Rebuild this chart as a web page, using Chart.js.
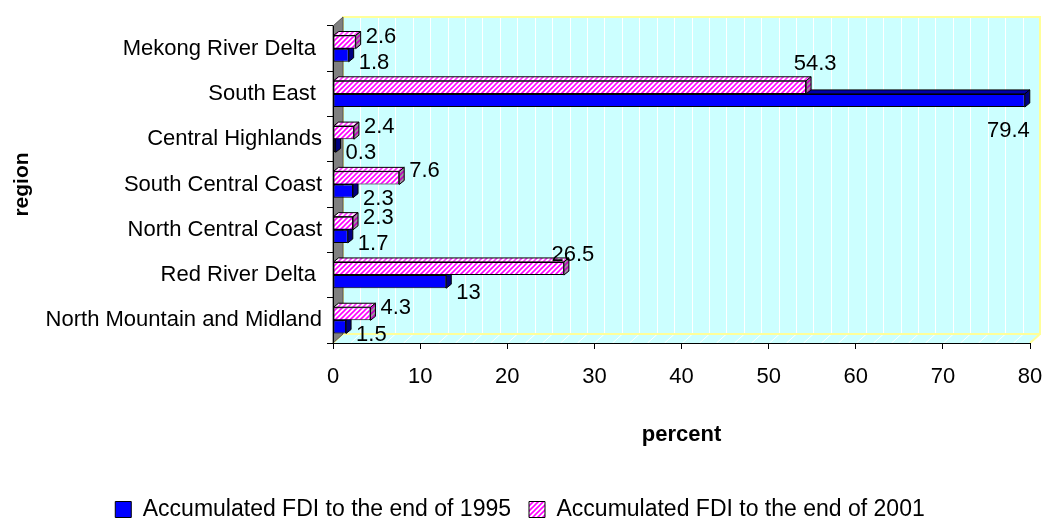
<!DOCTYPE html>
<html>
<head>
<meta charset="utf-8">
<title>FDI by region</title>
<script src="https://cdn.jsdelivr.net/npm/chart.js@4.4.0/dist/chart.umd.min.js"></script>
<style>
    html, body { margin: 0; padding: 0; background: #fff; }
    #chart { display: block; }
</style>
</head>
<body>
<canvas id="chart" width="1047" height="524"></canvas>
<script>
// chart data
const regions = ['Mekong River Delta ', 'South East ', 'Central Highlands', 'South Central Coast',
    'North Central Coast', 'Red River Delta ', 'North Mountain and Midland'];
const fdi1995 = [1.8, 79.4, 0.3, 2.3, 1.7, 13, 1.5];
const fdi2001 = [2.6, 54.3, 2.4, 7.6, 2.3, 26.5, 4.3];
const seriesNames = ['Accumulated FDI to the end of 1995', 'Accumulated FDI to the end of 2001'];
const xTicks = [0, 10, 20, 30, 40, 50, 60, 70, 80];
const gridStep = 2;

// 3D look
const WALL_DX = 10, WALL_DY = -9;
const BAR_DX = 5, BAR_DY = -4;
const FONT = '"Liberation Sans", Arial, sans-serif';

const canvas = document.getElementById('chart');
const ctx = canvas.getContext('2d');

function makeHatch(bg, fg) {
    const tile = document.createElement('canvas');
    tile.width = 5;
    tile.height = 5;
    const g = tile.getContext('2d');
    g.fillStyle = bg;
    g.fillRect(0, 0, 5, 5);
    g.strokeStyle = fg;
    g.lineWidth = 1.6;
    g.beginPath();
    g.moveTo(0, 5); g.lineTo(5, 0);
    g.moveTo(-1, 1); g.lineTo(1, -1);
    g.moveTo(4, 6); g.lineTo(6, 4);
    g.stroke();
    return ctx.createPattern(tile, 'repeat');
}

const pinkFront = makeHatch('#ffffff', '#ff00ff');
const pinkTop = makeHatch('#ffffff', '#ff33ff');
const pinkSide = makeHatch('#9a9a9a', '#c000c0');

// back wall, floor, side wall and grid
const wallsPlugin = {
    id: 'walls',
    beforeDraw(chart) {
        const { ctx, chartArea: a, scales: { x } } = chart;
        const dx = WALL_DX, dy = WALL_DY;
        ctx.save();
        ctx.fillStyle = '#ccffff';
        ctx.fillRect(a.left + dx, a.top + dy, a.width, a.height);
        ctx.beginPath();
        ctx.moveTo(a.left, a.bottom);
        ctx.lineTo(a.right, a.bottom);
        ctx.lineTo(a.right + dx, a.bottom + dy);
        ctx.lineTo(a.left + dx, a.bottom + dy);
        ctx.closePath();
        ctx.fill();

        ctx.strokeStyle = '#ffffff';
        ctx.lineWidth = 1;
        for (let v = x.min + gridStep; v < x.max; v += gridStep) {
            const px = Math.round(x.getPixelForValue(v)) + 0.5;
            ctx.beginPath();
            ctx.moveTo(px + dx, a.top + dy);
            ctx.lineTo(px + dx, a.bottom + dy);
            ctx.lineTo(px, a.bottom);
            ctx.stroke();
        }

        ctx.strokeStyle = '#ffff99';
        ctx.lineWidth = 2;
        ctx.beginPath();
        ctx.moveTo(a.left + dx, a.bottom + dy);
        ctx.lineTo(a.left + dx, a.top + dy);
        ctx.lineTo(a.right + dx, a.top + dy);
        ctx.lineTo(a.right + dx, a.bottom + dy);
        ctx.lineTo(a.left + dx, a.bottom + dy);
        ctx.lineTo(a.left, a.bottom);
        ctx.moveTo(a.right + dx, a.bottom + dy);
        ctx.lineTo(a.right, a.bottom);
        ctx.stroke();

        ctx.fillStyle = '#808080';
        ctx.strokeStyle = '#555555';
        ctx.lineWidth = 1;
        ctx.beginPath();
        ctx.moveTo(a.left, a.top);
        ctx.lineTo(a.left + dx, a.top + dy);
        ctx.lineTo(a.left + dx, a.bottom + dy);
        ctx.lineTo(a.left, a.bottom);
        ctx.closePath();
        ctx.fill();
        ctx.stroke();
        ctx.restore();
    }
};

// top and side faces of each bar
const barFacesPlugin = {
    id: 'barFaces',
    afterDatasetDraw(chart, args) {
        const ds = chart.data.datasets[args.index];
        const { ctx } = chart;
        ctx.save();
        ctx.strokeStyle = '#000';
        ctx.lineWidth = 1;
        args.meta.data.forEach(bar => {
            const top = bar.y - bar.height / 2;
            const bottom = bar.y + bar.height / 2;
            ctx.fillStyle = ds.topColor;
            ctx.beginPath();
            ctx.moveTo(bar.base, top);
            ctx.lineTo(bar.x, top);
            ctx.lineTo(bar.x + BAR_DX, top + BAR_DY);
            ctx.lineTo(bar.base + BAR_DX, top + BAR_DY);
            ctx.closePath();
            ctx.fill();
            ctx.stroke();
            ctx.fillStyle = ds.sideColor;
            ctx.beginPath();
            ctx.moveTo(bar.x, top);
            ctx.lineTo(bar.x + BAR_DX, top + BAR_DY);
            ctx.lineTo(bar.x + BAR_DX, bottom + BAR_DY);
            ctx.lineTo(bar.x, bottom);
            ctx.closePath();
            ctx.fill();
            ctx.stroke();
        });
        ctx.restore();
    }
};

// value labels near the bar ends, the way Excel lays them out
const valueLabelsPlugin = {
    id: 'valueLabels',
    afterDatasetsDraw(chart) {
        const { ctx, chartArea: a } = chart;
        ctx.save();
        ctx.font = '22px ' + FONT;
        ctx.fillStyle = '#000';
        ctx.textBaseline = 'middle';
        chart.data.datasets.forEach((ds, di) => {
            chart.getDatasetMeta(di).data.forEach((bar, i) => {
                const text = String(ds.data[i]);
                const w = ctx.measureText(text).width;
                const len = bar.x - bar.base;
                const top = bar.y - bar.height / 2;
                const bottom = bar.y + bar.height / 2;
                let tx, ty;
                if (ds.labelSide === 'above') {
                    ty = top + 2 - 0.04 * len;
                    tx = len > 150 ? bar.x + BAR_DX + 4 - w / 2 : bar.x + BAR_DX + 5;
                } else {
                    ty = bottom + 1 + 0.03 * len;
                    tx = bar.x + BAR_DX + 5;
                    if (tx + w > a.right) {
                        tx = bar.x + BAR_DX - w;
                        ty = bottom + 24;
                    }
                }
                ctx.textAlign = 'left';
                ctx.fillText(text, tx, ty);
            });
        });
        ctx.restore();
    }
};

new Chart(ctx, {
    type: 'bar',
    data: {
        labels: regions,
        datasets: [
            {
                label: seriesNames[1],
                data: fdi2001,
                backgroundColor: pinkFront,
                topColor: pinkTop,
                sideColor: pinkSide,
                labelSide: 'above',
                borderColor: '#000',
                borderWidth: 1,
                borderSkipped: false
            },
            {
                label: seriesNames[0],
                data: fdi1995,
                backgroundColor: '#0000ff',
                topColor: '#0000a8',
                sideColor: '#000080',
                labelSide: 'below',
                borderColor: '#000',
                borderWidth: 1,
                borderSkipped: false
            }
        ]
    },
    options: {
        indexAxis: 'y',
        responsive: false,
        animation: false,
        categoryPercentage: 0.58,
        barPercentage: 1,
        layout: { padding: { top: 26, right: 17, bottom: -7, left: 10 } },
        scales: {
            x: {
                min: 0,
                max: 80,
                afterBuildTicks: scale => { scale.ticks = xTicks.map(v => ({ value: v })); },
                afterFit: scale => {
                    scale.height = 137;
                    scale.paddingLeft = 0;
                    scale.paddingRight = 12;
                },
                ticks: { color: '#000', font: { family: FONT, size: 22 }, padding: 15 },
                grid: { drawOnChartArea: false, drawTicks: true, tickLength: 6, color: '#000' },
                border: { color: '#000', width: 1 },
                title: {
                    display: true,
                    text: 'percent',
                    color: '#000',
                    font: { family: FONT, size: 22, weight: 'bold' },
                    padding: { top: 0, bottom: 32 }
                }
            },
            y: {
                afterFit: scale => { scale.width = 323; },
                ticks: { color: '#000', font: { family: FONT, size: 22 }, padding: 5 },
                grid: { drawOnChartArea: false, drawTicks: true, tickLength: 6, color: '#000' },
                border: { color: '#000', width: 1 },
                title: {
                    display: true,
                    text: 'region',
                    color: '#000',
                    font: { family: FONT, size: 21, weight: 'bold' },
                    padding: 0
                }
            }
        },
        plugins: {
            legend: {
                position: 'bottom',
                reverse: true,
                labels: {
                    color: '#000',
                    font: { family: FONT, size: 23 },
                    boxWidth: 16,
                    boxHeight: 16,
                    padding: 18
                }
            },
            tooltip: { enabled: false }
        }
    },
    plugins: [wallsPlugin, barFacesPlugin, valueLabelsPlugin]
});
</script>
</body>
</html>
